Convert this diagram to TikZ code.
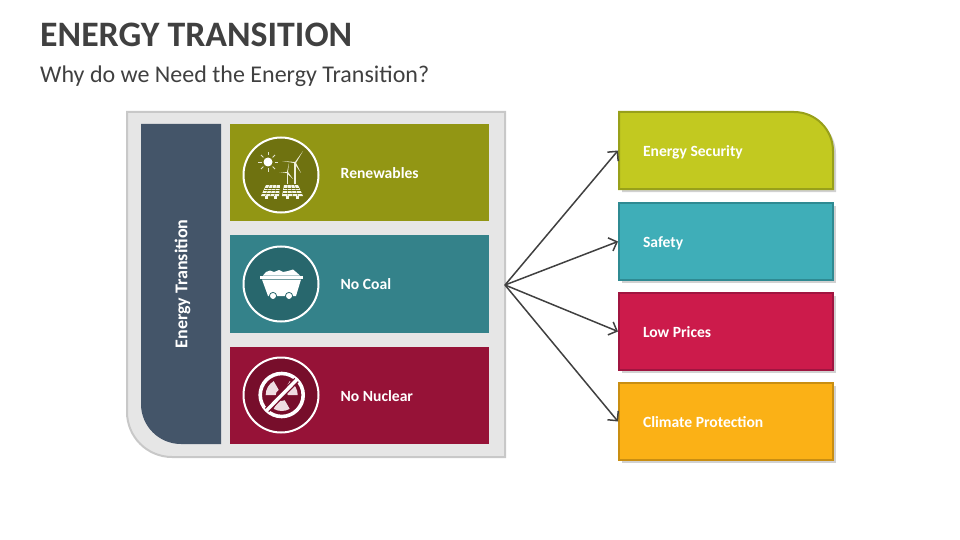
\documentclass[tikz,border=0pt]{standalone}
\usepackage{fontspec}
\setmainfont{Carlito}
\usetikzlibrary{positioning,arrows.meta}
\definecolor{panelgrey}{HTML}{E6E6E6}
\definecolor{panelline}{HTML}{C8C8C8}
\definecolor{barblue}{HTML}{445569}
\definecolor{titlegrey}{HTML}{404040}
\definecolor{olive}{HTML}{929614}
\definecolor{olivedark}{HTML}{6F7210}
\definecolor{teal}{HTML}{34828A}
\definecolor{tealdark}{HTML}{28676D}
\definecolor{wine}{HTML}{961237}
\definecolor{winedark}{HTML}{770E2B}
\definecolor{lime}{HTML}{C2C920}
\definecolor{limeline}{HTML}{98A01A}
\definecolor{aqua}{HTML}{3FAEB8}
\definecolor{aqualine}{HTML}{2F8A92}
\definecolor{crimson}{HTML}{CC1B4B}
\definecolor{crimsonline}{HTML}{A01540}
\definecolor{amber}{HTML}{FBB116}
\definecolor{amberline}{HTML}{C98E12}
\tikzset{
  rowbox/.style={minimum width=259,minimum height=97,inner sep=0},
  iconring/.style={circle,draw=white,line width=2,minimum size=75,inner sep=0},
  rowtext/.style={text=white,text height=10,text depth=3.4,font=\fontsize{15.6}{18}\selectfont\bfseries},
  goalbox/.style={line width=2,minimum width=214,minimum height=77,inner xsep=24,inner ysep=0,
    text width=166,align=flush left,text height=13,text depth=1,text=white,font=\fontsize{15.6}{18}\selectfont\bfseries},
  dropshade/.style={fill=black,fill opacity=.18},
  linkarrow/.style={draw=titlegrey,line width=1.5,-{Straight Barb[length=7,width=14,line width=1.5]}}
}
\begin{document}
\begin{tikzpicture}[x=1pt,y=-1pt]
  \useasboundingbox (0,0) rectangle (960,540);
  \node[anchor=west,inner sep=0,text=titlegrey,font=\fontsize{35.8}{40}\selectfont\bfseries] (title) at (40,35) {ENERGY TRANSITION};
  \node[anchor=west,inner sep=0,text=titlegrey,font=\fontsize{24}{28}\selectfont] (subtitle) at (40,76) {Why do we Need the Energy Transition?};

  \draw[draw=panelline,fill=panelgrey,line width=2] (127,112) -- (505,112) -- (505,457) [rounded corners=45] -- (127,457) [sharp corners] -- cycle;
  \fill[barblue] (141,124) -- (221,124) -- (221,444) [rounded corners=40] -- (141,444) [sharp corners] -- cycle;
  \node[rotate=90,rowtext,font=\fontsize{18}{20}\selectfont\bfseries] (barlabel) at (184,284) {Energy Transition};

  \node[rowbox,fill=olive] (renewrow) at (359.5,172.5) {};
  \node[rowbox,fill=teal,minimum height=98] (coalrow) at (359.5,284) {};
  \node[rowbox,fill=wine] (nuclearrow) at (359.5,395.5) {};

  \node[iconring,fill=olivedark] (renewicon) at (281,175) {};
  \node[iconring,fill=tealdark] (coalicon) at (281,284) {};
  \node[iconring,fill=winedark] (nuclearicon) at (281,395) {};
  \node[rowtext,right=21 of renewicon,inner xsep=0] (renewtext) {Renewables};
  \node[rowtext,right=21 of coalicon,inner xsep=0,yshift=-2] (coaltext) {No Coal};
  \node[rowtext,right=21 of nuclearicon,inner xsep=0,yshift=-3] (nucleartext) {No Nuclear};

  \fill[white] (268,162) circle (4.5);
  \foreach \a in {0,45,...,315}
    \draw[white,opacity=.8,line width=.8] (268,162) ++(\a:6.5) -- ++(\a:3.5);
  \draw[white!85!olive,line width=1.3] (295,162) -- (295,184);
  \fill[white!85!olive] (295,162) -- (303,151) -- (296,163) -- (301,173) -- (294,163) -- (282,161) -- cycle;
  \draw[white!85!olive,line width=1] (287,172) -- (287,184);
  \fill[white!85!olive] (287,172) -- (289,163) -- (288,172) -- (293,179) -- (286.5,173) -- (279,173) -- cycle;
  \fill[white!92!olive] (266,185) -- (280,185) -- (279,196) -- (261,196) -- cycle;
  \fill[white!92!olive] (284,185) -- (298,185) -- (303,196) -- (282,196) -- cycle;
  \foreach \t in {0.25,0.5,0.75} {
    \draw[olivedark,line width=.4] (266-5*\t,185+11*\t) -- (280-1*\t,185+11*\t);
    \draw[olivedark,line width=.4] (284-2*\t,185+11*\t) -- (298+5*\t,185+11*\t);
    \draw[olivedark,line width=.4] (266+14*\t,185) -- (261+18*\t,196);
    \draw[olivedark,line width=.4] (284+14*\t,185) -- (282+21*\t,196);
  }
  \fill[white!92!olive] (265,196) rectangle (268,199);
  \fill[white!92!olive] (274,196) rectangle (277,199);
  \fill[white!92!olive] (286,196) rectangle (289,199);
  \fill[white!92!olive] (296,196) rectangle (299,199);

  \fill[white] (263,275.5) -- (266,272) -- (270,270.5) -- (274,272) -- (279,270) -- (283,272) -- (288,271) -- (293,269.5) -- (296,272) -- (300,275.5) -- cycle;
  \fill[white] (260,276) rectangle (303,278.5);
  \fill[white] (262,279.5) -- (301,279.5) -- (296,296) -- (268,296) -- cycle;
  \draw[white,fill=white,line width=1.1] (273,296) circle (2.6);
  \draw[white,fill=white,line width=1.1] (289,296) circle (2.6);
  \draw[tealdark,line width=.8] (273,296) circle (3.6);
  \draw[tealdark,line width=.8] (289,296) circle (3.6);

  \draw[white,line width=3.6] (281.7,395) circle (21.5);
  \begin{scope}[shift={(281.7,395)},y=1pt]
    \foreach \a in {150,30,270}
      \fill[white!85!wine] (\a-30:6) -- (\a-30:16) arc[start angle=\a-30,end angle=\a+30,radius=16] -- (\a+30:6) arc[start angle=\a+30,end angle=\a-30,radius=6] -- cycle;
  \end{scope}
  \draw[winedark,line width=6] (267,410) -- (296.5,380);
  \draw[white,line width=3.4] (266.5,410.5) -- (297,379.5);

  \coordinate (hub) at (505,285);

  \fill[dropshade] (622,115) [rounded corners=39] -- (836,115) [sharp corners] -- (836,192) -- (622,192) -- cycle;
  \fill[dropshade] (622,206) rectangle (835.5,283);
  \fill[dropshade] (622,296) rectangle (835.5,373);
  \fill[dropshade] (622,386) rectangle (835.5,463);
  \draw[draw=limeline,fill=lime,line width=2] (619,112) [rounded corners=39] -- (833,112) [sharp corners] -- (833,189) -- (619,189) -- cycle;
  \node[goalbox] (security) at (726,150.5) {Energy Security};
  \node[goalbox,draw=aqualine,fill=aqua] (safety) at (726,241.5) {Safety};
  \node[goalbox,draw=crimsonline,fill=crimson] (prices) at (726,331.5) {Low Prices};
  \node[goalbox,draw=amberline,fill=amber] (climate) at (726,421.5) {Climate Protection};

  \draw[linkarrow] (hub) -- (security.west);
  \draw[linkarrow] (hub) -- (safety.west);
  \draw[linkarrow] (hub) -- (prices.west);
  \draw[linkarrow] (hub) -- (climate.west);
\end{tikzpicture}
\end{document}
